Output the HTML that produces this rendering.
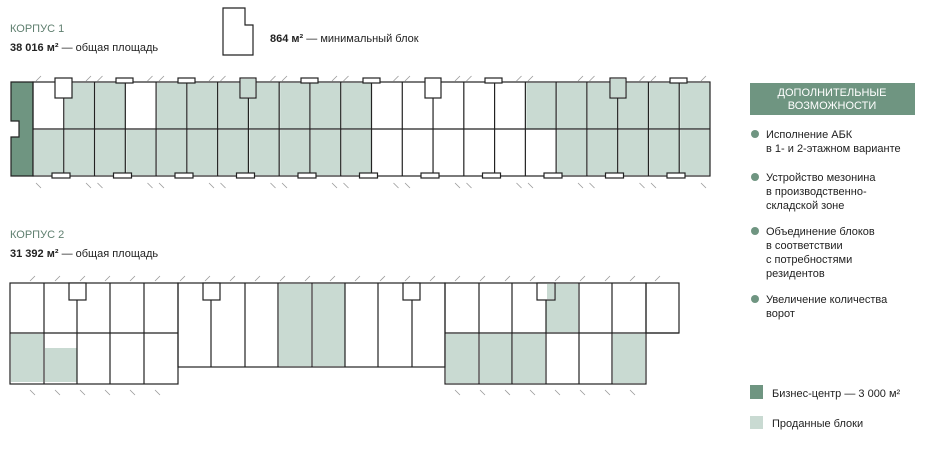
<!DOCTYPE html>
<html><head><meta charset="utf-8"><style>
body{margin:0;background:#fff;width:929px;height:450px;overflow:hidden}
svg{position:absolute;left:0;top:0}
text{font-family:"Liberation Sans",sans-serif;fill:#222}
</style></head><body>
<svg id="s" width="929" height="450" viewBox="0 0 929 450">
<g id="g"></g>
<text x="10" y="32" font-size="11" style="fill:#5f7f6f">КОРПУС 1</text>
<text x="10" y="51" font-size="11"><tspan font-weight="bold">38 016 м²</tspan> — общая площадь</text>
<path d="M223 8H245V25H253V55H223Z" fill="none" stroke="#222" stroke-width="1.2"/>
<text x="270" y="42" font-size="11"><tspan font-weight="bold">864 м²</tspan> — минимальный блок</text>
<text x="10" y="238" font-size="11" style="fill:#5f7f6f">КОРПУС 2</text>
<text x="10" y="257" font-size="11"><tspan font-weight="bold">31 392 м²</tspan> — общая площадь</text>
<rect x="750" y="83" width="165" height="32" fill="#6f9581"/>
<text x="832" y="96" font-size="11" text-anchor="middle" style="fill:#fff">ДОПОЛНИТЕЛЬНЫЕ</text>
<text x="832" y="109" font-size="11" text-anchor="middle" style="fill:#fff">ВОЗМОЖНОСТИ</text>
<g fill="#6f9581"><circle cx="755" cy="134" r="4"/><circle cx="755" cy="177" r="4"/><circle cx="755" cy="231" r="4"/><circle cx="755" cy="299" r="4"/></g>
<g font-size="11">
<text x="766" y="138">Исполнение АБК</text><text x="766" y="152">в 1- и 2-этажном варианте</text>
<text x="766" y="181">Устройство мезонина</text><text x="766" y="195">в производственно-</text><text x="766" y="209">складской зоне</text>
<text x="766" y="235">Объединение блоков</text><text x="766" y="249">в соответствии</text><text x="766" y="263">с потребностями</text><text x="766" y="277">резидентов</text>
<text x="766" y="303">Увеличение количества</text><text x="766" y="317">ворот</text>
</g>
<rect x="750" y="385" width="13" height="14" fill="#6f9581"/>
<text x="772" y="397" font-size="11">Бизнес-центр — 3 000 м²</text>
<rect x="750" y="416" width="13" height="13" fill="#c9dad2"/>
<text x="772" y="427" font-size="11">Проданные блоки</text>
</svg>
<script>
var g=document.getElementById('g'),h='';
var L='#c9dad2',D='#6f9581',K='#222';
function r(x,y,w,hh,f,s){h+='<rect x="'+x+'" y="'+y+'" width="'+w+'" height="'+hh+'" fill="'+(f||'none')+'"'+(s?' stroke="'+K+'" stroke-width="1.2"':'')+'/>';}
function l(x1,y1,x2,y2){h+='<line x1="'+x1+'" y1="'+y1+'" x2="'+x2+'" y2="'+y2+'" stroke="'+K+'" stroke-width="1.2"/>';}
function t(x,y,d){h+='<line x1="'+x+'" y1="'+y+'" x2="'+(x+5)+'" y2="'+(y-5*d)+'" stroke="#999" stroke-width="0.8"/>';}
var x0=33,cw=(710-33)/22;
var topRow=[0,1,1,0,1,1,1,1,1,1,1,0,0,0,0,0,1,1,1,1,1,1],botRow=[1,1,1,1,1,1,1,1,1,1,1,0,0,0,0,0,0,1,1,1,1,1];
for(var i=0;i<22;i++){var x=x0+i*cw;if(topRow[i])r(x+1,83,cw-1,46,L);if(botRow[i])r(x+1,130,cw-1,45,L);}
r(63,83,8,15,L);
h+='<path d="M11 82H33V176H11V137H19V121H11Z" fill="'+D+'" stroke="'+K+'" stroke-width="1.2"/>';
r(33,82,677,94,null,1);l(33,129,710,129);
for(var i=1;i<22;i++){var x=x0+i*cw;l(x,82,x,176);}
[[55,72],[240,256],[425,441],[610,626]].forEach(function(b){r(b[0],78,b[1]-b[0],20,'#fff',1);});
r(241,79,14,18,L);r(611,79,14,18,L);
[116,178,301,363,485,670].forEach(function(x){r(x,78,17,5,'#fff',1);});
for(var i=0;i<11;i++){r(52+i*61.5,173,18,5,'#fff',1);}
for(var x=36;x<710;x+=61.5){t(x,81,1);t(x+50,81,1);t(x,183,-1);t(x+50,183,-1);}
r(11,334,32,48,L);r(45,348,32,34,L);r(279,284,32,82,L);r(313,284,32,82,L);
r(546,284,32,48,L);r(446,334,32,49,L);r(480,334,32,49,L);r(513,334,32,49,L);r(613,334,32,49,L);
r(10,283,168,101,null,1);l(10,333,178,333);[44,77,110,144].forEach(function(x){l(x,283,x,384);});
r(178,283,267,84,null,1);[211,245,278,312,345,378,412].forEach(function(x){l(x,283,x,367);});
r(445,283,201,101,null,1);l(445,333,679,333);[479,512,546,579,612].forEach(function(x){l(x,283,x,384);});
r(646,283,33,50,null,1);
[[69,86],[203,220],[403,420],[537,555]].forEach(function(b){r(b[0],283,b[1]-b[0],17,'#fff',1);});
r(547,284,7,15,L);
for(var x=30;x<680;x+=25){t(x,281,1);}
for(var x=30;x<180;x+=25){t(x,390,-1);}
for(var x=455;x<640;x+=25){t(x,390,-1);}
g.innerHTML=h;
</script>
</body></html>
